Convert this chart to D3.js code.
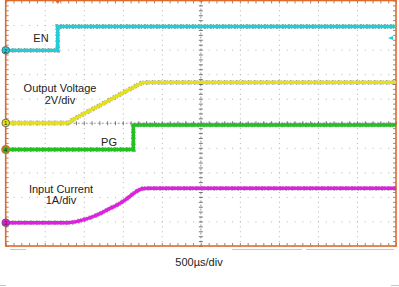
<!DOCTYPE html>
<html><head><meta charset="utf-8">
<script src="https://cdn.jsdelivr.net/npm/d3@7"></script>
<style>body{margin:0;background:#fff}svg{display:block}text{font-family:"Liberation Sans",Arial,sans-serif}</style>
</head><body><svg id="c" width="399" height="287"></svg>
<script>
// ---- data (time in µs, 500 µs/div) ----
const timeRange = [0, 5000];
const divRange = [0, 10];
const enTime = [0, 666, 666, 5000];
const enDiv = [0, 0, 0.97, 0.97];              // EN, in divisions
const voutTime = [0, 785, 870, 1208, 1528, 1656, 1720, 1780, 1850, 5000];
const voutVolts = [0, 0, 0.30, 1.45, 2.55, 2.98, 3.20, 3.29, 3.31, 3.31]; // 2 V/div
const pgTime = [0, 1635, 1635, 5000];
const pgDiv = [0, 0, 1.0, 1.0];                // PG, in divisions
const iinTime = [0, 798, 888, 990, 1105, 1208, 1310, 1426, 1528, 1630, 1695, 1745, 1820, 5000];
const iinAmps = [0, 0, 0.03, 0.11, 0.23, 0.37, 0.54, 0.72, 0.92, 1.17, 1.31, 1.38, 1.40, 1.40]; // 1 A/div
const labels = ["EN", "Output Voltage", "2V/div", "PG", "Input Current", "1A/div", "500µs/div"];

const svg = d3.select("#c");
const X0 = 5.7, X1 = 396, Y0 = 0.5, Y1 = 246;
const x = d3.scaleLinear(timeRange, [X0, X1]);
const y = d3.scaleLinear(divRange, [Y1, Y0]);
const minorT = d3.range(0, 5000.1, 100);
const majorT = d3.range(0, 5000.1, 500);
const minorD = d3.range(0, 10.01, 0.2);
const majorD = d3.range(0, 10.01, 1);

// grid dots
const stepY = (Y1 - Y0) / 50, stepX = (X1 - X0) / 50;
svg.append("g").attr("transform", `translate(0,${Y0})`)
  .call(d3.axisBottom(x).tickValues(majorT.slice(1, -1).filter(v => v !== 2500)).tickSize(Y1 - Y0).tickFormat(""))
  .call(g => g.select(".domain").remove())
  .call(g => g.selectAll("line").attr("stroke", "#b4b4b4").attr("stroke-dasharray", `1 ${stepY - 1}`));
svg.append("g").attr("transform", `translate(${X0},0)`)
  .call(d3.axisRight(y).tickValues(majorD.slice(1, -1).filter(v => v !== 5)).tickSize(X1 - X0).tickFormat(""))
  .call(g => g.select(".domain").remove())
  .call(g => g.selectAll("line").attr("stroke", "#b4b4b4").attr("stroke-dasharray", `1 ${stepX - 1}`));

// center lines
const cx = x(2500), cy = y(5);
svg.append("line").attr("x1", cx).attr("x2", cx).attr("y1", Y0).attr("y2", Y1).attr("stroke", "#9a9a9a").attr("stroke-dasharray", "2 2");
svg.append("line").attr("x1", X0).attr("x2", X1).attr("y1", cy).attr("y2", cy).attr("stroke", "#9a9a9a").attr("stroke-dasharray", "2 2");
svg.append("g").attr("transform", `translate(0,${cy - 2})`)
  .call(d3.axisBottom(x).tickValues(minorT).tickSize(4).tickFormat(""))
  .call(g => g.select(".domain").remove())
  .call(g => g.selectAll("line").attr("stroke", "#777"));
svg.append("g").attr("transform", `translate(${cx - 2},0)`)
  .call(d3.axisRight(y).tickValues(minorD).tickSize(4).tickFormat(""))
  .call(g => g.select(".domain").remove())
  .call(g => g.selectAll("line").attr("stroke", "#777"));

// border ticks
const tk = "#a08878";
function bt(axis, tr) {
  svg.append("g").attr("transform", tr).call(axis)
    .call(g => g.select(".domain").remove())
    .call(g => g.selectAll("line").attr("stroke", tk));
}
bt(d3.axisBottom(x).tickValues(minorT).tickSize(3).tickFormat(""), `translate(0,${Y0})`);
bt(d3.axisTop(x).tickValues(minorT).tickSize(3).tickFormat(""), `translate(0,${Y1})`);
bt(d3.axisRight(y).tickValues(minorD).tickSize(3).tickFormat(""), `translate(${X0},0)`);
bt(d3.axisLeft(y).tickValues(minorD).tickSize(3).tickFormat(""), `translate(${X1},0)`);

// border
svg.append("rect").attr("x", X0).attr("y", Y0).attr("width", X1 - X0).attr("height", Y1 - Y0)
  .attr("fill", "none").attr("stroke", "#e0692c").attr("stroke-width", 1.6);

// traces
function trace(ts, vs, offset, perDiv, color, curve) {
  const line = d3.line().x((d, i) => x(ts[i])).y((d, i) => y(offset + vs[i] / perDiv)).curve(curve);
  svg.append("path").attr("d", line(vs)).attr("fill", "none").attr("stroke", "#333").attr("stroke-opacity", 0.45).attr("stroke-width", 4.8).attr("stroke-dasharray", "2 1 1 2");
  svg.append("path").attr("d", line(vs)).attr("fill", "none").attr("stroke", color).attr("stroke-width", 3.4);
}
const offEN = 7.97, offV = 5.01, offPG = 3.93, offI = 0.95;
trace(enTime, enDiv, offEN, 1, "#22cdd6", d3.curveLinear);
trace(voutTime, voutVolts, offV, 2, "#e6e01c", d3.curveMonotoneX);
trace(pgTime, pgDiv, offPG, 1, "#22c022", d3.curveLinear);
trace(iinTime, iinAmps, offI, 1, "#e020e0", d3.curveMonotoneX);

// channel markers
const markers = [[offEN, "#22cdd6", "2"], [offV, "#e6e01c", "1"], [offPG, "#22c022", "4"], [offI, "#e020e0", "3"]];
markers.forEach(([o, c, n]) => {
  const g = svg.append("g").attr("transform", `translate(${X0},${y(o)})`);
  g.append("circle").attr("r", 3.8).attr("fill", c).attr("stroke", n === "4" ? "#e0692c" : "#555").attr("stroke-width", n === "4" ? 1.4 : 0.8);
  g.append("text").attr("text-anchor", "middle").attr("dy", 2.2).attr("font-size", 6).attr("fill", "#222").text(n);
});
// trigger position marker & level arrow
svg.append("path").attr("d", `M${x(666) - 3},0 L${x(666) + 3},0 L${x(666)},4 Z`).attr("fill", "#e0692c");
svg.append("path").attr("d", `M${X1 - 8},${y(8.47)} L${X1 - 3},${y(8.47) - 2} L${X1 - 3},${y(8.47) + 2} Z`).attr("fill", "#22cdd6");

// labels
const tx = [[41, 42, "middle", labels[0]], [60, 92, "middle", labels[1]], [60, 104, "middle", labels[2]],
  [109, 145.5, "middle", labels[3]], [61, 193, "middle", labels[4]], [61, 204, "middle", labels[5]],
  [199, 265.5, "middle", labels[6]]];
tx.forEach(([a, b, anc, t]) => svg.append("text").attr("x", a).attr("y", b).attr("text-anchor", anc)
  .attr("font-size", 11).attr("fill", "#222").text(t));

// decorative bars below
[[10, 26, 249.5], [232, 302, 249.5], [306, 394, 249.5], [0, 6, 285.5], [391, 399, 285.5]].forEach(([a, b, c]) =>
  svg.append("line").attr("x1", a).attr("x2", b).attr("y1", c).attr("y2", c).attr("stroke", "#c8c8c8"));
</script></body></html>
